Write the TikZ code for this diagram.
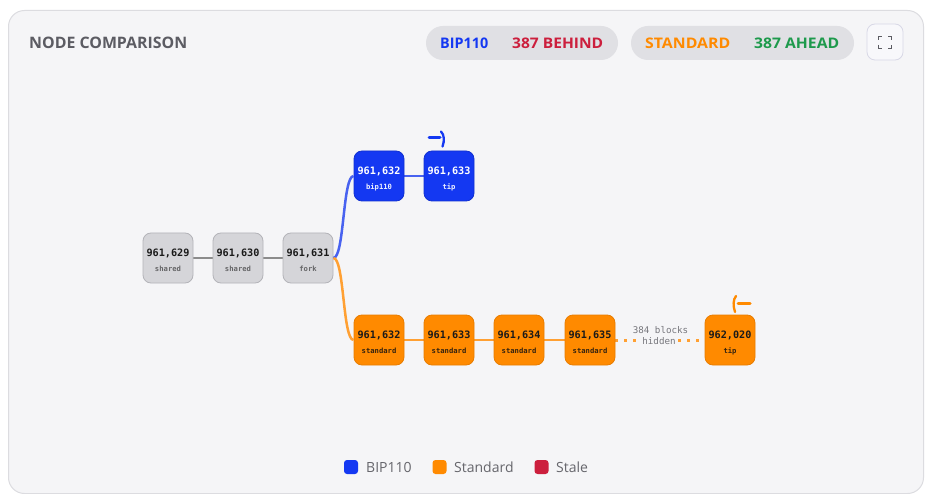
\documentclass[tikz,border=0pt]{standalone}
\usepackage{fontspec}
\usepackage{graphicx}
\setmainfont{Open Sans}
\newfontfamily\monof{DejaVu Sans Mono}
\definecolor{cardbg}{HTML}{F5F5F7}
\definecolor{cardline}{HTML}{DCDCE0}
\definecolor{pillbg}{HTML}{E0E0E4}
\definecolor{bluec}{HTML}{1438F2}
\definecolor{bluedark}{HTML}{1030D0}
\definecolor{orangec}{HTML}{FF8A00}
\definecolor{orangedark}{HTML}{E87C00}
\definecolor{grayfill}{HTML}{D5D5D9}
\definecolor{grayline}{HTML}{B3B3B8}
\definecolor{bluelink}{HTML}{4862F0}
\definecolor{orangelink}{HTML}{FFA033}
\definecolor{graylink}{HTML}{8C8C8C}
\definecolor{redc}{HTML}{CC1F3D}
\definecolor{greenc}{HTML}{1E9A4C}
\definecolor{titlec}{HTML}{5C5C63}
\definecolor{legc}{HTML}{66666C}
\definecolor{numdark}{HTML}{1A1A1A}
\definecolor{lblblue}{HTML}{D6DDFF}
\definecolor{lblorange}{HTML}{5A3000}
\definecolor{hidc}{HTML}{77777D}
\definecolor{btnline}{HTML}{D8D8E6}
\definecolor{btnfill}{HTML}{F8F8FB}
\colorlet{bluefill}{lblblue}
\colorlet{orangefill}{lblorange}
\newcommand\blk[7]{%
  \node[blkbox,#4] (#1) at (#2,#3) {};
  \node[numtxt,text=#7] (#1n) at (#2,#3-5) {#5};
  \node[lbltxt,text=#7!60!#4fill] (#1l) at (#2,#3+11) {#6};
}
\newcommand\fitw[2]{\resizebox{#1}{\height}{#2}}
\tikzset{
  blkbox/.style={minimum width=50pt,minimum height=50pt,rounded corners=8pt,line width=0.8pt,inner sep=0pt},
  gray/.style={fill=grayfill,draw=grayline},
  blue/.style={fill=bluec,draw=bluedark},
  orange/.style={fill=orangec,draw=orangedark},
  numtxt/.style={font=\monof\bfseries\fontsize{10.2}{12}\selectfont,inner sep=0pt},
  lbltxt/.style={font=\monof\bfseries\fontsize{7.2}{9}\selectfont,inner sep=0pt},
  pill/.style={fill=pillbg,rounded corners=17pt,minimum height=34pt,inner sep=0pt},
  pilltxt/.style={font=\bfseries\fontsize{14.6}{16}\selectfont,anchor=west,inner sep=0pt},
  legsq/.style={minimum width=14pt,minimum height=14pt,rounded corners=3pt,inner sep=0pt},
  legtxt/.style={font=\fontsize{14}{16}\selectfont,text=legc,anchor=west,inner sep=0pt},
  glink/.style={graylink,line width=2.5pt},
  blink/.style={bluelink,line width=2.5pt},
  olink/.style={orangelink,line width=2.5pt},
  hidtxt/.style={font=\monof\fontsize{9.2}{11}\selectfont,text=hidc,inner sep=0pt},
}
\begin{document}
\begin{tikzpicture}[x=1pt,y=-1pt]
\useasboundingbox (0,0) rectangle (931,494);
\fill[white] (0,0) rectangle (931,494);
\draw[cardline,fill=cardbg,line width=1pt,rounded corners=16pt] (8.5,10.5) rectangle (923.5,493.5);
% title
\node[font=\bfseries\fontsize{15.8}{18}\selectfont,text=titlec,anchor=west,inner sep=0pt] (title) at (29,43) {\fitw{158pt}{NODE COMPARISON}};
% pills
\node[pill,minimum width=192pt] (p1) at (522,43) {};
\node[pilltxt,text=bluec] (p1a) at (440,43) {\fitw{48pt}{BIP110}};
\node[pilltxt,text=redc] (p1b) at (512,43) {\fitw{91pt}{387 BEHIND}};
\node[pill,minimum width=223pt] (p2) at (742.5,43) {};
\node[pilltxt,text=orangec] (p2a) at (645,43) {\fitw{85pt}{STANDARD}};
\node[pilltxt,text=greenc] (p2b) at (754,43) {\fitw{85pt}{387 AHEAD}};
% fullscreen button
\node[draw=btnline,fill=btnfill,minimum width=36pt,minimum height=36pt,rounded corners=8pt,line width=0.8pt] (fs) at (885,42) {};
\begin{scope}[titlec,line width=1.4pt]
\draw (878.5,40) -- (878.5,36.5) -- (882,36.5);
\draw (888,36.5) -- (891.5,36.5) -- (891.5,40);
\draw (878.5,45) -- (878.5,48.5) -- (882,48.5);
\draw (888,48.5) -- (891.5,48.5) -- (891.5,45);
\end{scope}
% links (drawn first)
\coordinate (c629) at (168,258);
\coordinate (c630) at (238,258);
\coordinate (c631) at (308,258);
\coordinate (c635) at (615,340.5);
\coordinate (c020) at (705,340.5);
\draw[glink] (c629) -- (c630);
\draw[glink] (c630) -- (c631);
\draw[blink] (379,176) -- (449,176);
\draw[olink] (379,340) -- (590,340);
\draw[orangelink,line width=3pt,dash pattern=on 3pt off 6pt] (c635) -- (c020);
% blocks
\blk{b629}{168}{258}{gray}{961,629}{shared}{numdark}
\blk{b630}{238}{258}{gray}{961,630}{shared}{numdark}
\blk{b631}{308}{258}{gray}{961,631}{fork}{numdark}
\blk{u632}{379}{176}{blue}{961,632}{bip110}{white}
\blk{u633}{449}{176}{blue}{961,633}{tip}{white}
\blk{o632}{379}{340}{orange}{961,632}{standard}{numdark}
\blk{o633}{449}{340}{orange}{961,633}{standard}{numdark}
\blk{o634}{519}{340}{orange}{961,634}{standard}{numdark}
\blk{o635}{590}{340}{orange}{961,635}{standard}{numdark}
\blk{o020}{730}{340}{orange}{962,020}{tip}{numdark}
% fork curves
\draw[blink] (b631.east) .. controls +(11,0) and +(-11,0) .. (u632.west);
\draw[olink] (b631.east) .. controls +(11,0) and +(-11,0) .. (o632.west);
% hidden label
\node[hidtxt] (h1) at (660.5,330) {384 blocks};
\node[hidtxt,fill=cardbg,inner xsep=2pt,inner ysep=1pt] (h2) at (659,341) {hidden};
% tip arrows
\draw[bluec,line width=3pt,line cap=round] (429,138) -- (440,138);
\draw[bluec,line width=2.3pt,line cap=round] (441,131.5) .. controls (444.5,135) and (444.5,141) .. (442.5,146.5);
\draw[orangec,line width=3pt,line cap=round] (738,303) -- (750,303);
\draw[orangec,line width=2.3pt,line cap=round] (736,296) .. controls (733,299.5) and (733,306) .. (735,312);
% legend
\node[legsq,fill=bluec] (l1) at (351,467) {};
\node[legtxt] (l1t) at (366,467) {BIP110};
\node[legsq,fill=orangec] (l2) at (439.5,467) {};
\node[legtxt] (l2t) at (454,467) {Standard};
\node[legsq,fill=redc] (l3) at (541.5,467) {};
\node[legtxt] (l3t) at (556,467) {Stale};
\end{tikzpicture}
\end{document}
